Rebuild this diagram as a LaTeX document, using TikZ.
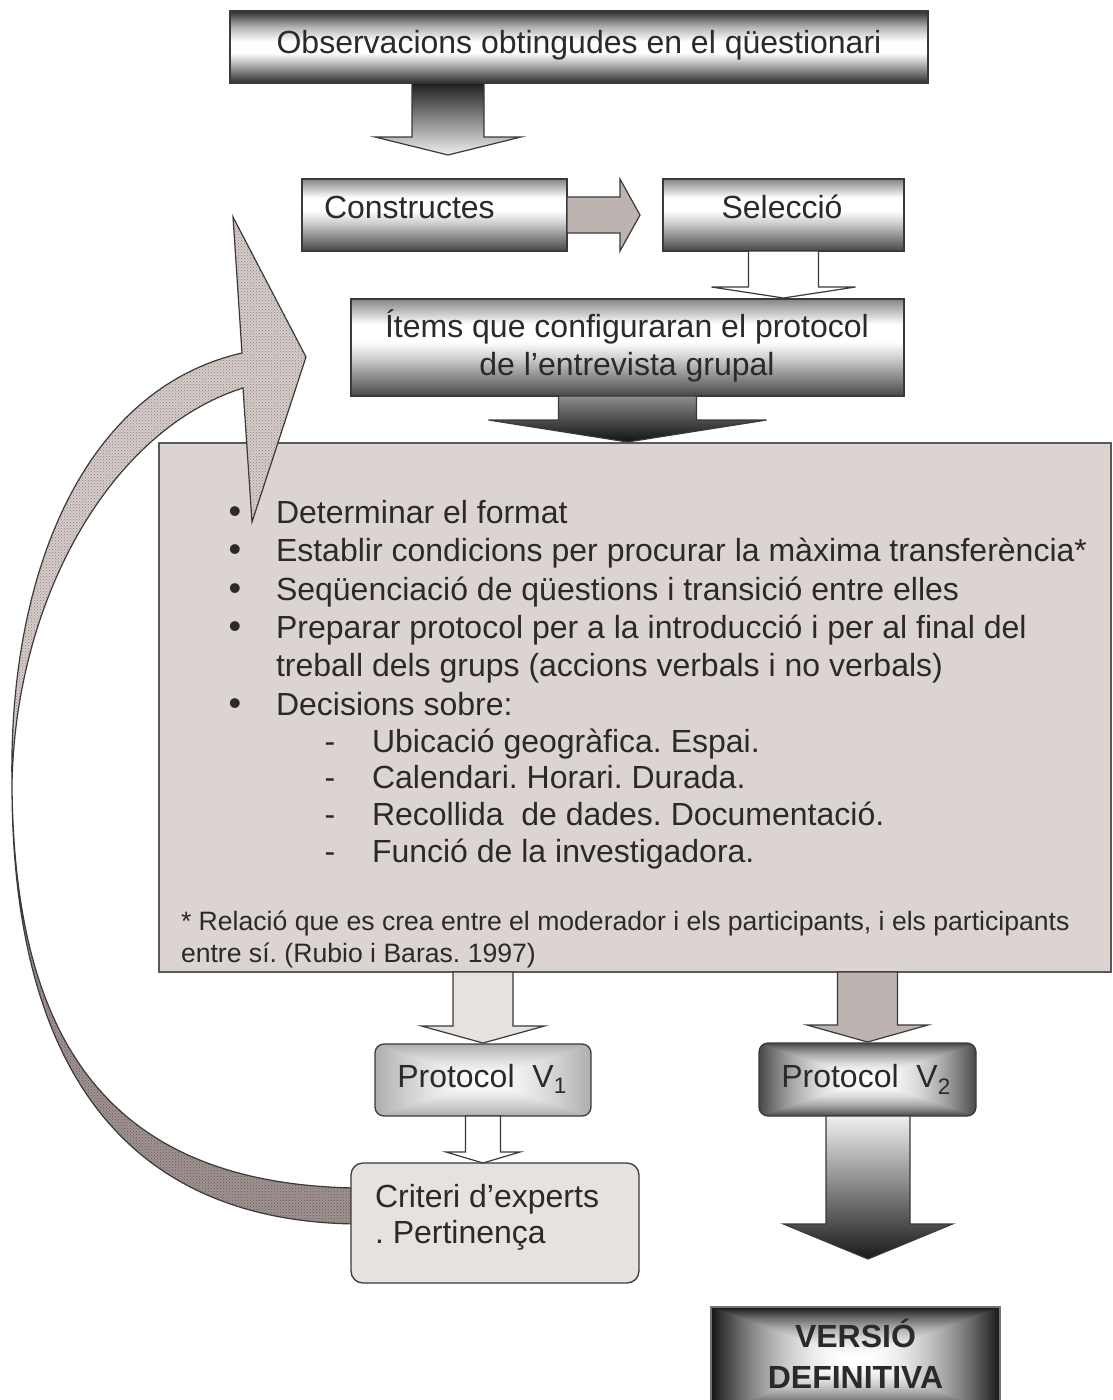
\documentclass[tikz,border=0pt]{standalone}
\usepackage{fontspec}
\setmainfont{Liberation Sans}
\usetikzlibrary{patterns,calc}
\definecolor{txtc}{RGB}{42,42,42}
\definecolor{bigfill}{RGB}{219,212,209}
\definecolor{taupe}{RGB}{189,179,176}
\definecolor{pale}{RGB}{230,226,223}
\definecolor{edge}{RGB}{58,58,58}
\definecolor{ribbase}{RGB}{214,205,203}
\definecolor{ribdot}{RGB}{140,126,124}
\definecolor{ribbasedark}{RGB}{160,146,144}
\definecolor{ribdotdark}{RGB}{100,90,88}
\pgfdeclareverticalshading{obsshade}{100bp}{color(0bp)=(black!82); color(25bp)=(black!82); color(38bp)=(black!30); color(46bp)=(white); color(54bp)=(white); color(64bp)=(black!30); color(75bp)=(black!82); color(100bp)=(black!82)}
\pgfdeclareverticalshading{midshade}{100bp}{color(0bp)=(black!72); color(25bp)=(black!72); color(45bp)=(black!18); color(53bp)=(white); color(62bp)=(white); color(75bp)=(black!48); color(100bp)=(black!48)}
\pgfdeclarefunctionalshading{pyrlight}{\pgfpoint{-50bp}{-50bp}}{\pgfpoint{50bp}{50bp}}{}{abs exch abs 2 copy lt {exch} if pop 25 div dup 1 gt {pop 1} if dup sqrt mul 0.32 mul 1 exch sub dup dup}
\pgfdeclarefunctionalshading{pyrmid}{\pgfpoint{-50bp}{-50bp}}{\pgfpoint{50bp}{50bp}}{}{abs exch abs 2 copy lt {exch} if pop 25 div dup 1 gt {pop 1} if dup mul 0.72 mul 1 exch sub dup dup}
\pgfdeclarefunctionalshading{pyrdark}{\pgfpoint{-50bp}{-50bp}}{\pgfpoint{50bp}{50bp}}{}{abs exch abs 2 copy lt {exch} if pop 25 div dup 1 gt {pop 1} if dup mul 0.92 mul 1 exch sub dup dup}
% block arrow down: style, from node anchor, tip coordinate, half shaft, half head, head length
\newcommand\blockdown[6]{\path[#1] let \p1=(#2), \p2=(#3) in
  ({\x2-#4},\y1) -- ({\x2+#4},\y1) -- ({\x2+#4},{\y2+#6}) -- ({\x2+#5},{\y2+#6}) -- (\x2,\y2)
  -- ({\x2-#5},{\y2+#6}) -- ({\x2-#4},{\y2+#6}) -- cycle;}
% block arrow right
\newcommand\blockright[6]{\path[#1] let \p1=(#2), \p2=(#3) in
  (\x1,{\y2+#4}) -- ({\x2-#6},{\y2+#4}) -- ({\x2-#6},{\y2+#5}) -- (\x2,\y2)
  -- ({\x2-#6},{\y2-#5}) -- ({\x2-#6},{\y2-#4}) -- (\x1,{\y2-#4}) -- cycle;}
\begin{document}
\frenchspacing
\begin{tikzpicture}[x=1pt,y=-1pt,
  box/.style={draw=edge, line width=1.3pt, inner sep=0pt, outer sep=0pt},
  lbl/.style={inner sep=0pt, outer sep=0pt, text=txtc, font=\fontsize{32}{38}\selectfont, anchor=base},
  lblw/.style={lbl, anchor=base west},
  note/.style={lblw, font=\fontsize{26.6}{32}\selectfont},
  arrowline/.style={draw=edge, line width=1.2pt},
  ribbonlight/.style={preaction={fill=ribbase}, pattern=crosshatch dots, pattern color=ribdot, draw=edge, line width=1.2pt},
  ribbondark/.style={preaction={fill=ribbasedark}, pattern=crosshatch dots, pattern color=ribdotdark, draw=edge, line width=1.2pt}]
\useasboundingbox (0,0) rectangle (1113,1400);
\clip (0,0) rectangle (1113,1400);

% ---------- boxes
\node[box, shading=obsshade, minimum width=698pt, minimum height=72pt] (obs) at (579,47) {};
\node[lbl] (obstxt) at (579,53) {Observacions obtingudes en el qüestionari};

\node[box, shading=midshade, minimum width=265pt, minimum height=72pt] (cons) at (434.5,215) {};
\node[lblw] (constxt) at (324,218) {Constructes};

\node[box, shading=midshade, minimum width=241pt, minimum height=72pt] (sel) at (783.5,215) {};
\node[lbl] (seltxt) at (782,218) {Selecció};

\node[box, shading=midshade, minimum width=553pt, minimum height=97pt] (items) at (627.5,347.5) {};
\node[lbl] (itemsa) at (627,337) {Ítems que configuraran el protocol};
\node[lbl] (itemsb) at (627,375) {de l’entrevista grupal};

\node[box, fill=bigfill, draw=black!65, minimum width=952pt, minimum height=529pt] (big) at (635,707.5) {};
\begin{scope}
\clip (159,443) rectangle (1111,971);
\foreach \yy/\nm in {523/ba,561/bb,600/bc,638/bd,715/be}
  \node[lbl, font=\fontsize{36}{38}\selectfont] (\nm) at (235,\yy) {•};
\node[lblw] (la) at (276,523) {Determinar el format};
\node[lblw] (lb) at (276,561) {Establir condicions per procurar la màxima transferència*};
\node[lblw] (lc) at (276,600) {Seqüenciació de qüestions i transició entre elles};
\node[lblw] (ld) at (276,638) {Preparar protocol per a la introducció i per al final del};
\node[lblw] (le) at (276,676) {treball dels grups (accions verbals i no verbals)};
\node[lblw] (lf) at (276,715) {Decisions sobre:};
\foreach \yy/\nm in {752/da,788/db,825/dc,862/dd}
  \node[lbl] (\nm) at (330,\yy) {-};
\node[lblw] (sa) at (372,752) {Ubicació geogràfica. Espai.};
\node[lblw] (sb) at (372,788) {Calendari. Horari. Durada.};
\node[lblw] (sc) at (372,825) {Recollida~ de dades. Documentació.};
\node[lblw] (sd) at (372,862) {Funció de la investigadora.};
\node[note] (na) at (181,930) {* Relació que es crea entre el moderador i els participants, i els participants};
\node[note] (nb) at (181,962) {entre sí. (Rubio i Baras. 1997)};
\end{scope}

% ---------- curved feedback arrow (twisting ribbon)
\coordinate (rtip) at (306,357);
\coordinate (rturn) at (12,785);
\path[ribbonlight]
  (rtip) -- (233,217) -- (242,353)
  .. controls (80,390) and (8,580) .. (rturn)
  .. controls (15,600) and (110,430) .. (243,388)
  -- (252,522) -- cycle;
\path[ribbondark]
  (rturn) .. controls (12,1040) and (105,1222) .. (358,1224)
  -- (358,1188)
  .. controls (100,1185) and (14,1030) .. (rturn) -- cycle;

\node[box, rounded corners=9pt, shading=pyrlight, minimum width=216pt, minimum height=72pt] (v1) at (483,1080) {};
\node[lbl] (v1txt) at (482,1087) {Protocol~ V\textsubscript{1}};

\node[box, rounded corners=12pt, fill=pale, minimum width=288pt, minimum height=120pt] (crit) at (495,1223) {};
\node[lblw] (crita) at (375,1207) {Criteri d’experts};
\node[lblw] (critb) at (375,1243) {. Pertinença};

\node[box, rounded corners=9pt, shading=pyrmid, minimum width=217pt, minimum height=73pt] (v2) at (867.5,1079.5) {};
\node[lbl] (v2txt) at (866,1087) {Protocol~ V\textsubscript{2}};

\node[box, draw=black!55, shading=pyrdark, minimum width=289pt, minimum height=106pt] (vers) at (855.5,1360) {};
\node[lbl, font=\fontsize{32}{38}\selectfont\bfseries] (versa) at (855.5,1347) {VERSIÓ};
\node[lbl, font=\fontsize{32}{38}\selectfont\bfseries] (versb) at (855.5,1388) {DEFINITIVA};

% ---------- block arrows
\coordinate (t1) at (448,155);
\blockdown{arrowline, top color=black!88, bottom color=black!6}{obs.south}{t1}{36pt}{73pt}{18pt}
\coordinate (t2) at (640,215);
\blockright{arrowline, fill=taupe}{cons.east}{t2}{18pt}{36pt}{20pt}
\coordinate (t3) at (783.5,298);
\blockdown{arrowline, fill=white}{sel.south}{t3}{35pt}{72pt}{11pt}
\coordinate (t4) at (627.5,442);
\blockdown{arrowline, top color=black!45, bottom color=black!93}{items.south}{t4}{69pt}{139pt}{22pt}
\coordinate (t5) at (483,1043);
\blockdown{arrowline, fill=pale}{big.south}{t5}{30pt}{61.5pt}{17pt}
\coordinate (t6) at (483,1163);
\blockdown{arrowline, fill=white}{v1.south}{t6}{17.5pt}{37pt}{11pt}
\coordinate (t7) at (867.5,1042);
\blockdown{arrowline, fill=taupe}{big.south}{t7}{30pt}{60.5pt}{17pt}
\coordinate (t8) at (868,1259);
\blockdown{arrowline, top color=black!6, bottom color=black!90}{v2.south}{t8}{42pt}{84.5pt}{35pt}
\end{tikzpicture}
\end{document}
